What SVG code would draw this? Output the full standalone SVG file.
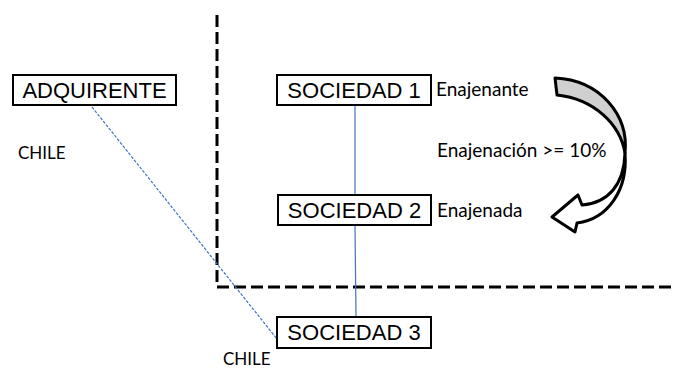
<svg xmlns="http://www.w3.org/2000/svg" width="673" height="369" viewBox="0 0 673 369">
  <style>
    .box { fill: #ffffff; stroke: #000000; stroke-width: 2; }
    .boxtext { font-family: "Liberation Sans", Arial, sans-serif; font-size: 22px; fill: #000000; text-anchor: middle; }
    .label { font-family: Lato, "Open Sans", sans-serif; font-size: 19px; fill: #000000; }
    .country { font-size: 17px; }
    .link { stroke: #4472C4; stroke-width: 1.2; fill: none; }
    .border { stroke: #000000; stroke-width: 3; fill: none; stroke-dasharray: 12 5; }
    .arrow { stroke: #000000; stroke-width: 3; stroke-linejoin: round; }
  </style>

  <!-- border between jurisdictions -->
  <path class="border" d="M217,15 V287 H673"/>

  <!-- connectors -->
  <g id="connectors">
    <line class="link" x1="355" y1="106" x2="355" y2="195"/>
    <line class="link" x1="355" y1="226" x2="356" y2="317"/>
    <line class="link" x1="92" y1="107" x2="277" y2="339" stroke-dasharray="3 1.5"/>
  </g>

  <g id="adquirente">
    <rect class="box" x="13" y="75" width="163" height="30"/>
    <text class="boxtext" x="94.5" y="98">ADQUIRENTE</text>
  </g>

  <g id="sociedad1">
    <rect class="box" x="277" y="75" width="154" height="30"/>
    <text class="boxtext" x="354" y="98">SOCIEDAD 1</text>
  </g>

  <g id="sociedad2">
    <rect class="box" x="278" y="195" width="153" height="30"/>
    <text class="boxtext" x="354.5" y="218">SOCIEDAD 2</text>
  </g>

  <g id="sociedad3">
    <rect class="box" x="277" y="317" width="154" height="31"/>
    <text class="boxtext" x="354" y="340">SOCIEDAD 3</text>
  </g>

  <!-- labels -->
  <text class="label country" x="18" y="159">CHILE</text>
  <text class="label country" x="223" y="365">CHILE</text>
  <text class="label" x="436" y="96">Enajenante</text>
  <text class="label" x="437" y="217">Enajenada</text>
  <text class="label" x="437" y="157">Enajenación &gt;= 10%</text>

  <!-- curved arrow -->
  <g id="curved-arrow">
    <path class="arrow" fill="#d0d0d0" d="M555,78 C600,80 629,115 625,153 C620,124 594,99 557,95 Z"/>
    <path class="arrow" fill="#ffffff" d="M625,153 C624,185 608,203 582,205 L578,195 L552,217 L575,232 L577,223 C608,219 628,190 625,153 Z"/>
  </g>
</svg>
